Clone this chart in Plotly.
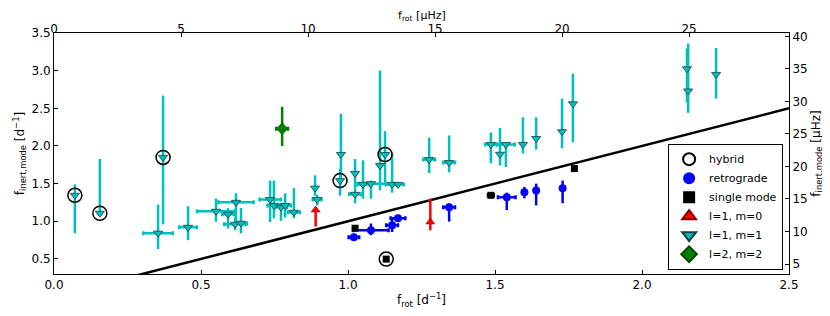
import plotly.graph_objects as go

UHZ = 11.574  # 1 d^-1 in µHz

# l=1, m=1 (cyan)
m11_x = [0.071, 0.156, 0.371, 0.354, 0.456, 0.551, 0.592, 0.619, 0.616, 0.636,
         0.735, 0.748, 0.772, 0.786, 0.816, 0.888, 0.895, 0.976, 0.973, 1.024,
         1.024, 1.051, 1.078, 1.109, 1.126, 1.150, 1.170, 1.276, 1.344, 1.486,
         1.517, 1.537, 1.595, 1.640, 1.728, 1.765, 2.153, 2.157, 2.252]
m11_y = [1.345, 1.107, 1.848, 0.842, 0.920, 1.133, 1.094, 1.252, 0.960, 0.975,
         1.290, 1.210, 1.186, 1.210, 1.120, 1.440, 1.290, 1.887, 1.540, 1.636,
         1.358, 1.490, 1.500, 1.740, 1.887, 1.490, 1.490, 1.820, 1.780, 2.020,
         1.890, 2.020, 2.020, 2.100, 2.190, 2.560, 3.025, 2.730, 2.950]
m11_ep = [0.145, 0.720, 0.820, 0.380, 0.280, 0.170, 0.080, 0.120, 0.090, 0.200,
          0.250, 0.330, 0.050, 0.160, 0.320, 0.170, 0.060, 0.540, 0.160, 0.190,
          0.090, 0.320, 0.040, 1.260, 0.310, 0.410, 0.030, 0.290, 0.360, 0.160,
          0.350, 0.030, 0.360, 0.280, 0.440, 0.400, 0.270, 0.630, 0.350]
m11_em = [0.505, 0.000, 0.890, 0.210, 0.170, 0.140, 0.190, 0.240, 0.080, 0.135,
          0.300, 0.170, 0.180, 0.160, 0.080, 0.100, 0.080, 0.390, 0.200, 0.190,
          0.120, 0.190, 0.200, 0.330, 0.390, 0.110, 0.040, 0.180, 0.130, 0.250,
          0.150, 0.300, 0.120, 0.150, 0.220, 0.510, 0.450, 0.290, 0.320]
m11_ex = [0.000, 0.000, 0.000, 0.050, 0.030, 0.064, 0.020, 0.060, 0.037, 0.020,
          0.036, 0.022, 0.020, 0.020, 0.020, 0.000, 0.015, 0.000, 0.000, 0.000,
          0.020, 0.020, 0.050, 0.000, 0.000, 0.020, 0.020, 0.020, 0.020, 0.020,
          0.000, 0.030, 0.000, 0.000, 0.000, 0.000, 0.000, 0.000, 0.000]

# retrograde (blue)
retro_x = [1.020, 1.078, 1.150, 1.170, 1.344, 1.540, 1.600, 1.640, 1.730, 2.157]
retro_y = [0.789, 0.880, 0.948, 1.040, 1.186, 1.320, 1.385, 1.410, 1.440, 1.887]
retro_ep = [0.04, 0.09, 0.09, 0.03, 0.05, 0.06, 0.07, 0.09, 0.10, 0.00]
retro_em = [0.04, 0.065, 0.09, 0.03, 0.19, 0.17, 0.08, 0.20, 0.20, 0.37]
retro_ex = [0.018, 0.060, 0.020, 0.025, 0.020, 0.030, 0.000, 0.000, 0.000, 0.000]

# single mode (black)
single_x = [1.024, 1.130, 1.486, 1.770, 2.250]
single_y = [0.908, 0.498, 1.345, 1.700, 1.980]
single_ex = [0.0, 0.0, 0.01, 0.0, 0.0]

# l=1, m=0 (red)
m10_x = [0.890, 1.280]
m10_y = [1.150, 0.990]
m10_ep = [0.04, 0.31]
m10_em = [0.22, 0.11]

# l=2, m=2 (green)
m22_x = [0.776]
m22_y = [2.230]
m22_ep = [0.29]
m22_em = [0.23]
m22_ex = [0.02]

# hybrid stars (open circles)
hyb_x = [0.071, 0.156, 0.371, 0.973, 1.126, 1.130]
hyb_y = [1.345, 1.107, 1.848, 1.540, 1.887, 0.498]

# reference line f_inert = f_rot
line_x = [0.0, 2.5]
line_y = [0.0, 2.5]

FONT = "DejaVu Sans"
fig = go.Figure()

fig.add_trace(go.Scatter(x=line_x, y=line_y, mode="lines",
                         line=dict(color="black", width=2.5), showlegend=False,
                         hoverinfo="skip"))

def ebar(col, arr, arrm=None, w=0):
    d = dict(type="data", array=arr, color=col, thickness=2.5, width=w, visible=True)
    if arrm is not None:
        d["symmetric"] = False
        d["arrayminus"] = arrm
    return d

fig.add_trace(go.Scatter(x=m11_x, y=m11_y, mode="markers", name="l=1, m=1",
                         marker=dict(symbol="triangle-down", size=8, color="#00BFBF",
                                     line=dict(color="#1a4040", width=0.8)),
                         error_y=ebar("#00BFBF", m11_ep, m11_em),
                         error_x=ebar("#00BFBF", m11_ex, w=2),
                         legendrank=5))
fig.add_trace(go.Scatter(x=m10_x, y=m10_y, mode="markers", name="l=1, m=0",
                         marker=dict(symbol="triangle-up", size=8, color="#FF0000",
                                     line=dict(color="#800000", width=0.5)),
                         error_y=ebar("#FF0000", m10_ep, m10_em),
                         legendrank=4))
fig.add_trace(go.Scatter(x=m22_x, y=m22_y, mode="markers", name="l=2, m=2",
                         marker=dict(symbol="diamond", size=9, color="#008000",
                                     line=dict(color="#004000", width=0.5)),
                         error_y=ebar("#008000", m22_ep, m22_em),
                         error_x=ebar("#008000", m22_ex, w=2),
                         legendrank=6))
fig.add_trace(go.Scatter(x=retro_x, y=retro_y, mode="markers", name="retrograde",
                         marker=dict(symbol="circle", size=8, color="#0000FF",
                                     line=dict(width=0)),
                         error_y=ebar("#0000FF", retro_ep, retro_em),
                         error_x=ebar("#0000FF", retro_ex, w=2),
                         legendrank=2))
fig.add_trace(go.Scatter(x=single_x, y=single_y, mode="markers", name="single mode",
                         marker=dict(symbol="square", size=7, color="black",
                                     line=dict(width=0)),
                         error_x=ebar("black", single_ex, w=2),
                         legendrank=3))
fig.add_trace(go.Scatter(x=hyb_x, y=hyb_y, mode="markers", name="hybrid",
                         marker=dict(symbol="circle-open", size=14, color="black",
                                     line=dict(color="black", width=1.5)),
                         legendrank=1))

# dummy trace to activate secondary axes
fig.add_trace(go.Scatter(x=[None], y=[None], xaxis="x2", yaxis="y2",
                         showlegend=False, hoverinfo="skip"))

axcommon = dict(showline=True, linecolor="black", linewidth=1, mirror=False,
                ticks="inside", ticklen=4, tickcolor="black", showgrid=False,
                zeroline=False, automargin=False,
                tickfont=dict(family=FONT, size=12, color="black"))

# the page body adds an 8px offset, so the figure is sized to fit the window
fig.update_layout(
    width=822, height=308,
    margin=dict(l=46, r=41, t=25, b=42),
    paper_bgcolor="white", plot_bgcolor="white",
    font=dict(family=FONT, size=12, color="black"),
    xaxis=dict(range=[0, 2.5], tickvals=[0, 0.5, 1.0, 1.5, 2.0, 2.5],
               ticktext=["0.0", "0.5", "1.0", "1.5", "2.0", "2.5"],
               title=dict(text="f<sub>rot</sub> [d<sup>−1</sup>]", standoff=4,
                          font=dict(size=12)), **axcommon),
    yaxis=dict(range=[0.3, 3.5], tickvals=[0.5, 1.0, 1.5, 2.0, 2.5, 3.0, 3.5],
               ticktext=["0.5", "1.0", "1.5", "2.0", "2.5", "3.0", "3.5"],
               title=dict(text="f<sub>inert,mode</sub> [d<sup>−1</sup>]", standoff=4,
                          font=dict(size=12)), **axcommon),
    xaxis2=dict(range=[0, 2.5 * UHZ], overlaying="x", side="top", anchor="y",
                tickvals=[0, 5, 10, 15, 20, 25], ticklabelstandoff=-6, **axcommon),
    yaxis2=dict(range=[0.3 * UHZ, 3.5 * UHZ], overlaying="y", side="right", anchor="x",
                tickvals=[5, 10, 15, 20, 25, 30, 35, 40],
                title=dict(text="f<sub>inert,mode</sub> [µHz]", standoff=4,
                           font=dict(size=12)), **axcommon),
    legend=dict(x=0.992, y=0.018, xanchor="right", yanchor="bottom",
                bgcolor="white", bordercolor="black", borderwidth=1,
                font=dict(family=FONT, size=11, color="black"),
                tracegroupgap=0, itemsizing="constant", itemwidth=30),
    showlegend=True,
    annotations=[dict(text="f<sub>rot</sub> [µHz]", xref="paper", yref="paper",
                      x=0.5, y=1, xanchor="center", yanchor="top", yshift=26,
                      showarrow=False, font=dict(family=FONT, size=11, color="black"))],
)

fig.write_html("out.html")
